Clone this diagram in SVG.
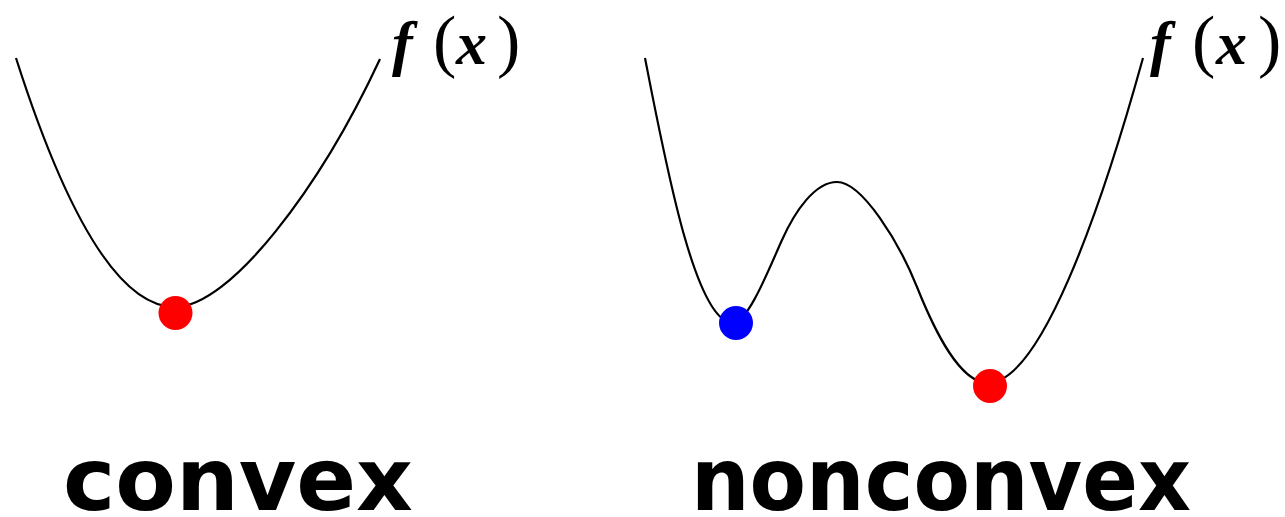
<svg xmlns="http://www.w3.org/2000/svg" width="1285" height="517" viewBox="0 0 1285 517">
<style>
.curve{fill:none;stroke:#000;stroke-width:2.2;stroke-linecap:butt;stroke-linejoin:round}
.fx{font-family:"Liberation Serif","DejaVu Serif",serif;font-size:62px;fill:#000}
.fi{font-style:italic;font-weight:bold}
.par{font-size:70px}
.lbl{font-family:"DejaVu Sans","Liberation Sans",sans-serif;font-weight:bold;font-size:88px;fill:#000}
</style>
<rect width="1285" height="517" fill="#fff"/>
<g id="convex">
<path class="curve" d="M16,58 Q95.5,307 175,307 C230,307 320,188 380,59"/>
<circle cx="175.5" cy="313" r="17" fill="#ff0000"/>
<text class="fx" y="64"><tspan class="fi" x="392">f</tspan><tspan class="par" x="433">(</tspan><tspan class="fi" x="456">x</tspan><tspan class="par" x="497">)</tspan></text>
<text class="lbl" x="63" y="510" textLength="350" lengthAdjust="spacingAndGlyphs">convex</text>
</g>
<g id="nonconvex">
<path class="curve" d="M645,58 C665,160 695,323 733,323 C748,323 770,266.4 782,240 C795,211 815,182 837,182 C862,182 899,242 917,287 C935,332 960,383 988,383 C1040,383 1100,213 1143,58"/>
<circle cx="736" cy="323" r="17" fill="#0000ff"/>
<circle cx="990" cy="386" r="17" fill="#ff0000"/>
<text class="fx" y="64"><tspan class="fi" x="1150">f</tspan><tspan class="par" x="1192">(</tspan><tspan class="fi" x="1216">x</tspan><tspan class="par" x="1258">)</tspan></text>
<text class="lbl" x="691" y="510" textLength="500" lengthAdjust="spacingAndGlyphs">nonconvex</text>
</g>
</svg>
